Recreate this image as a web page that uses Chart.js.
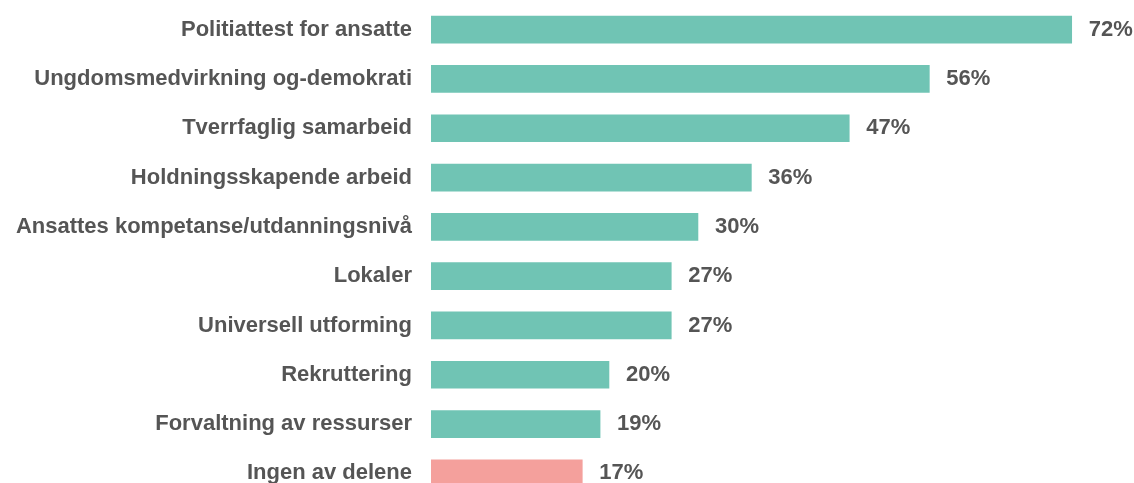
<!DOCTYPE html>
<html>
<head>
<meta charset="utf-8">
<script src="https://cdn.jsdelivr.net/npm/chart.js@4"></script>
<style>
    html, body { margin: 0; padding: 0; background: #fff; overflow: hidden; }
    #wrap { width: 1134px; height: 483px; overflow: hidden; }
</style>
</head>
<body>
<div id="wrap"><canvas id="bars" width="1134" height="500"></canvas></div>
<script>
var categories = [
    "Politiattest for ansatte",
    "Ungdomsmedvirkning og-demokrati",
    "Tverrfaglig samarbeid",
    "Holdningsskapende arbeid",
    "Ansattes kompetanse/utdanningsnivå",
    "Lokaler",
    "Universell utforming",
    "Rekruttering",
    "Forvaltning av ressurser",
    "Ingen av delene"
];
var percentages = [72, 56, 47, 36, 30, 27, 27, 20, 19, 17];

window.chartColors = {
    green : "#70C4B4",
    pink  : "#F4A09C",
    text  : "#555555"
};

var barColors = categories.map(function(c, i) {
    return i === categories.length - 1 ? window.chartColors.pink : window.chartColors.green;
});

// writes the value at the end of each bar
var valueLabels = {
    id: 'valueLabels',
    afterDatasetsDraw: function(chart) {
        var ctx = chart.ctx;
        var meta = chart.getDatasetMeta(0);
        ctx.save();
        ctx.font = 'bold 22px "Liberation Sans", Arial, sans-serif';
        ctx.fillStyle = window.chartColors.text;
        ctx.textAlign = 'left';
        ctx.textBaseline = 'middle';
        meta.data.forEach(function(bar, i) {
            ctx.fillText(percentages[i] + '%', bar.x + 17, bar.y);
        });
        ctx.restore();
    }
};

var barConfig = {
    type: 'bar',
    data: {
        labels: categories,
        datasets: [{
            data: percentages,
            backgroundColor: barColors,
            borderWidth: 0,
            barThickness: 27
        }]
    },
    options: {
        indexAxis: 'y',
        responsive: false,
        animation: false,
        layout: {
            padding: { top: 5, right: 0, bottom: 2, left: 0 }
        },
        plugins: {
            legend: { display: false },
            tooltip: { enabled: false }
        },
        scales: {
            x: {
                display: false,
                min: 0,
                max: 79
            },
            y: {
                afterFit: function(scale) {
                    scale.width = 431;
                    scale.paddingTop = 0;
                    scale.paddingBottom = 0;
                },
                grid: { display: false, drawTicks: true, tickLength: 19 },
                border: { display: false },
                ticks: {
                    color: window.chartColors.text,
                    padding: 0,
                    font: { family: '"Liberation Sans", Arial, sans-serif', size: 22, weight: 'bold' }
                }
            }
        }
    },
    plugins: [valueLabels]
};

window.onload = function() {
    var ctx = document.getElementById("bars").getContext("2d");
    window.barChart = new Chart(ctx, barConfig);
};
</script>
</body>
</html>
